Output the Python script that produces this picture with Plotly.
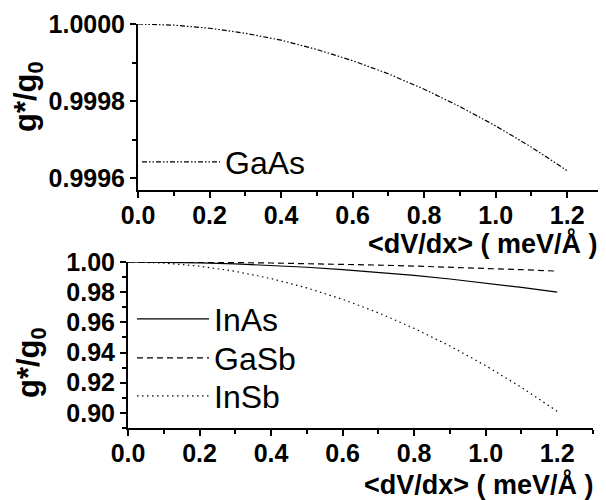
import plotly.graph_objects as go

x_field = [0.0, 0.1, 0.2, 0.3, 0.4, 0.5, 0.6, 0.7, 0.8, 0.9, 1.0, 1.1, 1.2]
gaas = [1.0, 0.999997, 0.999989, 0.999976, 0.999958, 0.999934, 0.999905,
        0.999871, 0.999831, 0.999786, 0.999736, 0.999681, 0.99962]
inas = [1.0, 0.99986, 0.99944, 0.99875, 0.99778, 0.99653, 0.99500,
        0.99319, 0.99110, 0.98874, 0.98610, 0.98318, 0.97998]
gasb = [1.0, 0.99996, 0.99983, 0.99962, 0.99933, 0.99895, 0.99849,
        0.99794, 0.99731, 0.99660, 0.99580, 0.99492, 0.99395]
insb = [1.0, 0.99931, 0.99725, 0.99382, 0.98901, 0.98283, 0.97527,
        0.96634, 0.95603, 0.94435, 0.93130, 0.91687, 0.90107]

FONT = "Liberation Sans"
OFF = 8                      # page body margin of the html page
W, H = 606 - OFF, 500 - OFF  # figure size so that it fills the window


def px(x):
    return (x - OFF) / W


def py(y):
    return 1 - (y - OFF) / H


fig = go.Figure()
fig.add_trace(go.Scatter(x=x_field, y=gaas, mode="lines", name="GaAs",
                         line=dict(color="black", width=1.2, dash="5px,2px,1.5px,2px,1.5px,2px"),
                         xaxis="x", yaxis="y", legend="legend"))
fig.add_trace(go.Scatter(x=x_field, y=inas, mode="lines", name="InAs",
                         line=dict(color="black", width=1.2),
                         xaxis="x2", yaxis="y2", legend="legend2"))
fig.add_trace(go.Scatter(x=x_field, y=gasb, mode="lines", name="GaSb",
                         line=dict(color="black", width=1.2, dash="6px,4px"),
                         xaxis="x2", yaxis="y2", legend="legend3"))
fig.add_trace(go.Scatter(x=x_field, y=insb, mode="lines", name="InSb",
                         line=dict(color="black", width=1.2, dash="1.5px,3.5px"),
                         xaxis="x2", yaxis="y2", legend="legend4"))

tickfont = dict(family=FONT, size=25, color="black", weight="bold")


def xax(domain, anchor):
    return dict(domain=domain, anchor=anchor, range=[0, 1.3], dtick=0.2, tick0=0,
                tickformat=".1f", showline=True, linewidth=2, linecolor="black",
                ticks="outside", ticklen=6, tickwidth=1.5, tickcolor="black",
                minor=dict(dtick=0.1, ticks="outside", ticklen=4, tickwidth=1.5, tickcolor="black"),
                showgrid=False, zeroline=False, tickfont=tickfont, ticklabelstandoff=-4,
                automargin=False)


def yax(domain, anchor, rng, dtick, fmt, minor):
    return dict(domain=domain, anchor=anchor, range=rng, dtick=dtick, tick0=rng[0] - rng[0] % dtick,
                tickformat=fmt, showline=True, linewidth=2, linecolor="black",
                ticks="outside", ticklen=6, tickwidth=1.5, tickcolor="black",
                minor=dict(dtick=minor, ticks="outside", ticklen=4, tickwidth=1.5, tickcolor="black"),
                showgrid=False, zeroline=False, tickfont=tickfont, ticklabelstandoff=0,
                automargin=False)


legfont = dict(family=FONT, size=32, color="black")


def leg(xp, yp, iw):
    return dict(x=px(xp), y=py(yp), xanchor="left", yanchor="middle",
                bgcolor="rgba(0,0,0,0)", itemwidth=iw, font=legfont)


fig.update_layout(
    width=W, height=H, margin=dict(l=0, r=0, t=0, b=0, autoexpand=False),
    paper_bgcolor="white", plot_bgcolor="white",
    xaxis=xax([px(138), px(603)], "y"),
    yaxis=yax([py(190), py(24)], "x", [0.99957, 1.0], 0.0002, ".4f", 0.0001),
    xaxis2=xax([px(128), px(593)], "y2"),
    yaxis2=yax([py(428), py(262)], "x2", [0.89, 1.0], 0.02, ".2f", 0.01),
    legend=leg(137, 162, 78),
    legend2=leg(132, 319, 72),
    legend3=leg(132, 358, 72),
    legend4=leg(132, 396, 72),
    showlegend=True,
)

titlefont = dict(family=FONT, size=27, color="black", weight="bold")
fig.add_annotation(text="&lt;dV/dx&gt; ( meV/Å )", xref="paper", yref="paper",
                   x=px(600), y=py(243), xanchor="right", yanchor="middle",
                   showarrow=False, font=titlefont)
fig.add_annotation(text="&lt;dV/dx&gt; ( meV/Å )", xref="paper", yref="paper",
                   x=px(596), y=py(484), xanchor="right", yanchor="middle",
                   showarrow=False, font=titlefont)
ytitlefont = dict(family=FONT, size=31, color="black", weight="bold")
fig.add_annotation(text="g*/g<sub>0</sub>", xref="paper", yref="paper",
                   x=px(28), y=py(97), xanchor="center", yanchor="middle",
                   textangle=-90, showarrow=False, font=ytitlefont)
fig.add_annotation(text="g*/g<sub>0</sub>", xref="paper", yref="paper",
                   x=px(31), y=py(363), xanchor="center", yanchor="middle",
                   textangle=-90, showarrow=False, font=ytitlefont)

fig.write_html("out.html")
